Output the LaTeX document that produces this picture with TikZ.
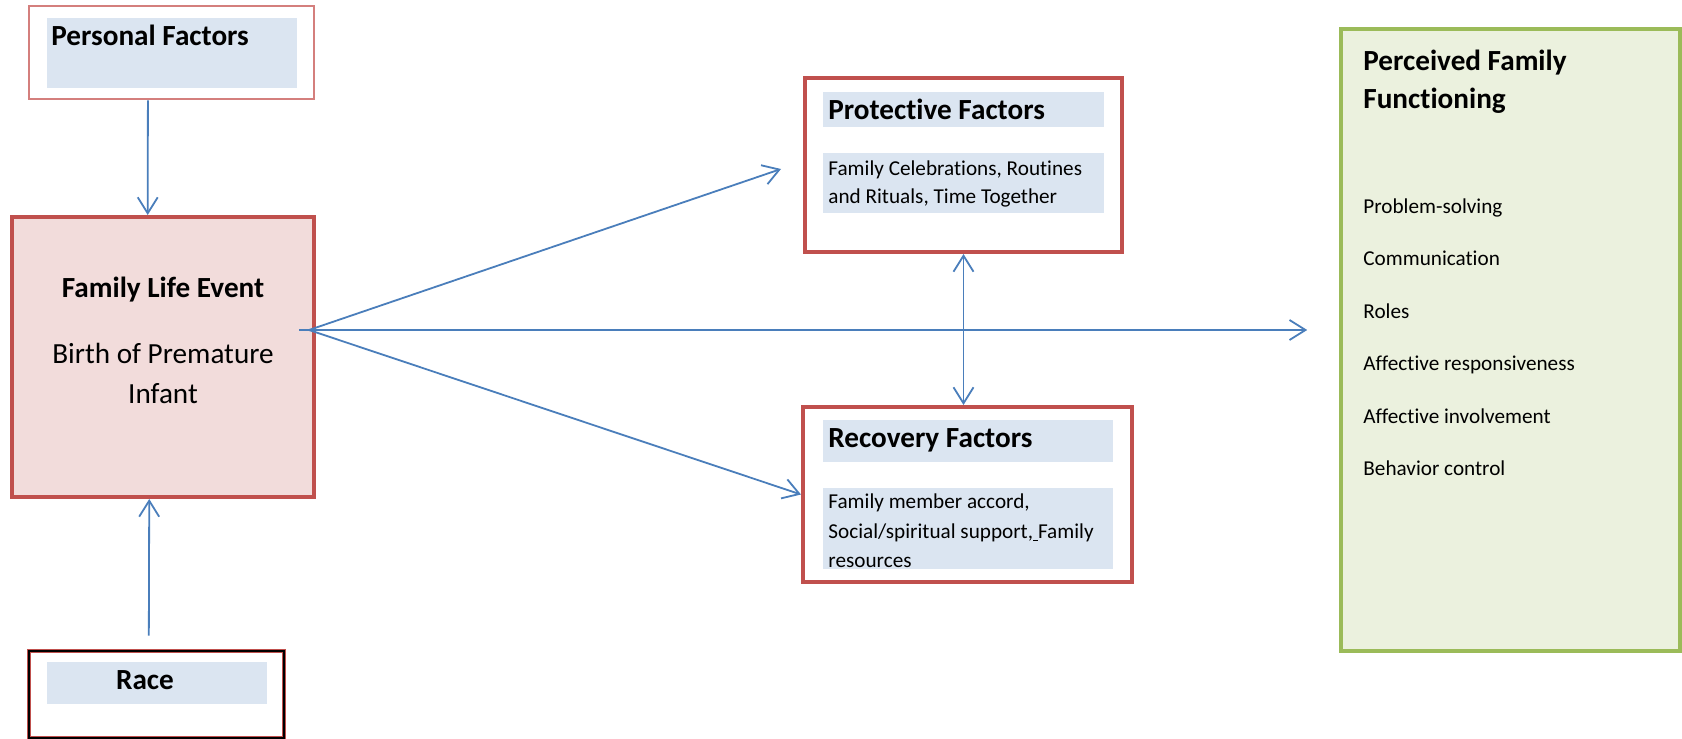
\documentclass[tikz,border=0pt]{standalone}
\usepackage{fontspec}
\setmainfont{Carlito}[Ligatures={NoCommon}]
\usetikzlibrary{fit,calc,arrows.meta}
\definecolor{boxred}{HTML}{C0504D}
\definecolor{lightred}{HTML}{D47F7D}
\definecolor{eventpink}{HTML}{F2DCDB}
\definecolor{panelblue}{HTML}{DBE5F1}
\definecolor{linkblue}{HTML}{4A7EBB}
\definecolor{greenline}{HTML}{9BBB59}
\definecolor{greenfill}{HTML}{EBF1DE}
\begin{document}
\begin{tikzpicture}[x=0.5pt,y=-0.5pt,
	factorbox/.style={draw=boxred,line width=2pt,inner sep=0pt},
	panel/.style={fill=panelblue,inner sep=0pt},
	head/.style={font=\fontsize{14.6}{18}\selectfont\bfseries,inner sep=0pt,anchor=base west},
	body/.style={font=\fontsize{10.6}{15}\selectfont,inner sep=0pt,anchor=base west},
	link/.style={draw=linkblue,line width=0.9pt,-{Straight Barb[length=8pt,width=10pt]}}]
	\useasboundingbox (0,0) rectangle (1682,739);
	% left column
	\node [fit={(29,6) (314,99)},draw=lightred,line width=1.3pt,inner sep=0pt] (personal) {};
	\node [fit={(47,18) (297,88)},panel] (personal-panel) {};
	\node [head] (personal-title) at (51,46) {Personal Factors};
	\node [fit={(12,217) (314,497)},factorbox,fill=eventpink] (event) {};
	\node [head,anchor=base] (event-title) at (163,297) {Family Life Event};
	\node [font=\fontsize{14.6}{18}\selectfont,inner sep=0pt,anchor=base] (event-text1) at (163,363) {Birth of Premature};
	\node [font=\fontsize{14.6}{18}\selectfont,inner sep=0pt,anchor=base] (event-text2) at (163,403) {Infant};
	\node [fit={(29,651) (284,738)},draw=boxred,double=black,double distance=1.2pt,line width=0.4pt,inner sep=0pt] (race) {};
	\node [fit={(47,662) (267,704)},panel] (race-panel) {};
	\node [head,anchor=base] (race-title) at (145,689) {Race};
	% middle column
	\node [fit={(805,78) (1122,252)},factorbox] (protect) {};
	\node [fit={(823,92) (1104,127)},panel] (protect-panel) {};
	\node [head] (protect-title) at (828,119) {Protective Factors};
	\node [fit={(823,153) (1104,213)},panel] (protect-panel2) {};
	\node [body] (protect-text1) at (828,175) {Family Celebrations, Routines};
	\node [body] (protect-text2) at (828,203) {and Rituals, Time Together};
	\node [fit={(803,407) (1132,582)},factorbox] (recover) {};
	\node [fit={(823,420) (1113,462)},panel] (recover-panel) {};
	\node [head] (recover-title) at (828,447) {Recovery Factors};
	\node [fit={(823,488) (1113,569)},panel] (recover-panel2) {};
	\node [body] (recover-text1) at (828,508) {Family member accord,};
	\node [body] (recover-text2) at (828,538) {Social/spiritual support,\underline{\ }Family};
	\node [body] (recover-text3) at (828,567) {resources};
	% right column
	\node [fit={(1341,29) (1680,651)},draw=greenline,fill=greenfill,line width=1.8pt,inner sep=0pt] (perceived) {};
	\node [head] (perceived-title1) at (1363,70) {Perceived Family};
	\node [head] (perceived-title2) at (1363,108) {Functioning};
	\node [body] (item1) at (1363,213) {Problem-solving};
	\node [body] (item2) at (1363,265) {Communication};
	\node [body] (item3) at (1363,318) {Roles};
	\node [body] (item4) at (1363,370) {Affective responsiveness};
	\node [body] (item5) at (1363,423) {Affective involvement};
	\node [body] (item6) at (1363,475) {Behavior control};
	% connectors
	\coordinate (hub) at ($(event.east)+(-7,-27)$);
	\draw [link] ($(personal.south west)!.418!(personal.south east)$) -- ($(event.north west)!.45!(event.north east)$);
	\draw [link] ([yshift=7.5pt]$(race.north west)!.47!(race.north east)$) -- ($(event.south west)!.455!(event.south east)$);
	\draw [link] (hub) -- ($(protect.west)+(-22,4)$);
	\draw [link] (hub) -- (recover.west);
	\draw [link] ($(hub)+(-10,0)$) -- ($(hub -| perceived.west)+(-32,0)$);
	\draw [link,{Straight Barb[length=8pt,width=10pt]}-{Straight Barb[length=8pt,width=10pt]}] (protect.south) -- (protect.south |- recover.north);
\end{tikzpicture}
\end{document}
